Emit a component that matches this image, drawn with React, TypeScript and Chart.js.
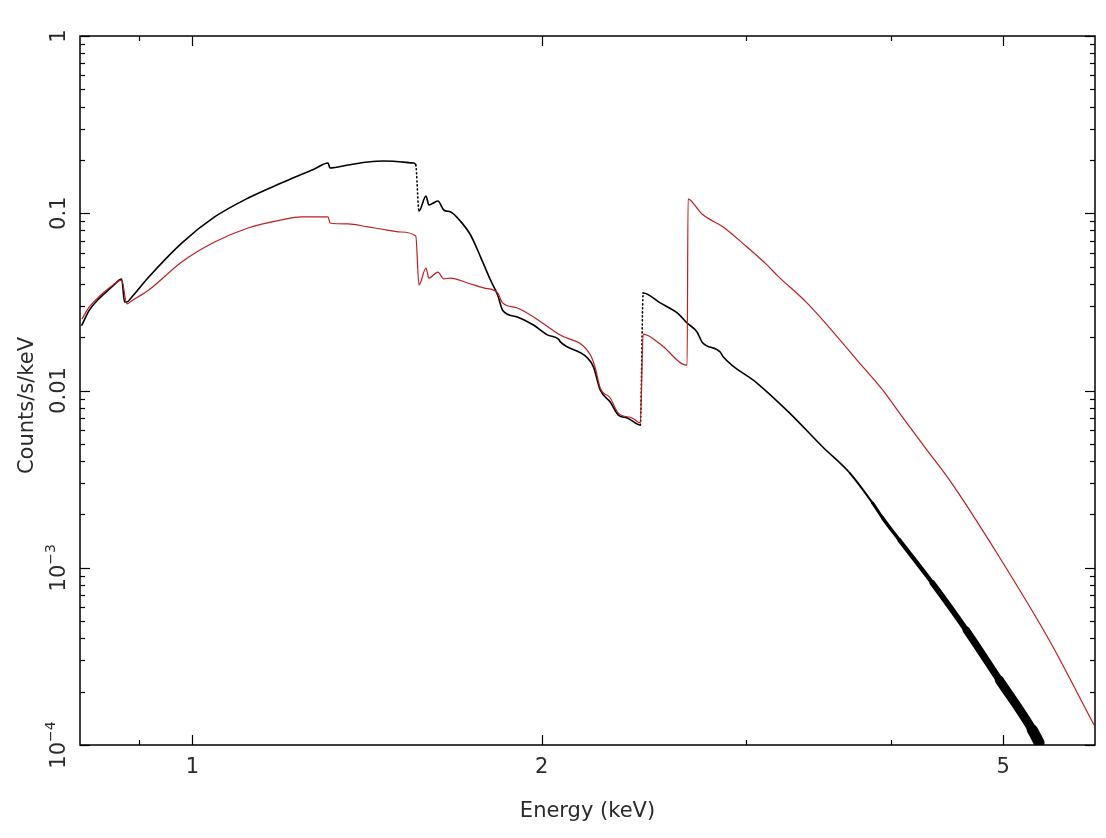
import React, { useEffect, useRef } from "react";
import { Chart, registerables } from "chart.js";

Chart.register(...registerables);

// ---- data (Energy in keV, Counts/s/keV) ----
const blackEnergy = [0.803, 0.815, 0.832, 0.852, 0.865, 0.869, 0.874, 0.878, 0.886, 0.917, 0.979, 1.045, 1.117, 1.193, 1.241, 1.274, 1.309, 1.314, 1.362, 1.417, 1.463, 1.552, 1.558, 1.568, 1.590, 1.599, 1.628, 1.647, 1.670, 1.703, 1.737, 1.772, 1.807, 1.833, 1.851, 1.906, 1.968, 2.023, 2.068, 2.076, 2.190, 2.217, 2.247, 2.292, 2.329, 2.371, 2.433, 2.447, 2.531, 2.618, 2.670, 2.723, 2.750, 2.851, 2.868, 3.067, 3.273, 3.495, 3.688, 3.858, 3.936, 4.070, 4.345, 4.647, 4.962, 5.297, 5.370];
const blackCounts = [0.0234, 0.0284, 0.0333, 0.0384, 0.0420, 0.0426, 0.0316, 0.0316, 0.0335, 0.0437, 0.0679, 0.0953, 0.1219, 0.1482, 0.1654, 0.1777, 0.1920, 0.1800, 0.1872, 0.1945, 0.1971, 0.1920, 0.1872, 0.1030, 0.1251, 0.1113, 0.1173, 0.1043, 0.1016, 0.0900, 0.0754, 0.0566, 0.0420, 0.0346, 0.0284, 0.0260, 0.0234, 0.0206, 0.0195, 0.0188, 0.0153, 0.0136, 0.01007, 0.00861, 0.00727, 0.00700, 0.00639, 0.0355, 0.0312, 0.0274, 0.0240, 0.0214, 0.0188, 0.0165, 0.0155, 0.01102, 0.00746, 0.00480, 0.00342, 0.00232, 0.00191, 0.00143, 0.000820, 0.000445, 0.000233, 0.000122, 0.000103];

const redEnergy = [0.803, 0.815, 0.852, 0.869, 0.878, 0.886, 0.917, 0.979, 1.045, 1.117, 1.193, 1.241, 1.309, 1.314, 1.362, 1.417, 1.454, 1.512, 1.558, 1.568, 1.590, 1.599, 1.628, 1.647, 1.670, 1.727, 1.783, 1.833, 1.851, 1.906, 1.968, 2.068, 2.203, 2.225, 2.247, 2.292, 2.329, 2.394, 2.433, 2.447, 2.531, 2.670, 2.675, 2.686, 2.750, 2.868, 3.007, 3.129, 3.191, 3.387, 3.544, 3.739, 3.936, 4.070, 4.276, 4.494, 4.962, 5.478, 5.988];
const redCounts = [0.0253, 0.0296, 0.0389, 0.0420, 0.0308, 0.0320, 0.0369, 0.0531, 0.0688, 0.0826, 0.0916, 0.0953, 0.0953, 0.0881, 0.0870, 0.0837, 0.0815, 0.0784, 0.0744, 0.0394, 0.0491, 0.0431, 0.0466, 0.0426, 0.0431, 0.0404, 0.0379, 0.0355, 0.0312, 0.0292, 0.0260, 0.0208, 0.0159, 0.0134, 0.01033, 0.00907, 0.00746, 0.00700, 0.00656, 0.0208, 0.0183, 0.0139, 0.1203, 0.1188, 0.0990, 0.0837, 0.0645, 0.0511, 0.0448, 0.0312, 0.0225, 0.0149, 0.01007, 0.00746, 0.00483, 0.00313, 0.00115, 0.000391, 0.000130];

// ---- axes ----
const xMin = 0.8;
const xMax = 6;
const yMin = 1e-4;
const yMax = 1;
const xMajorTicks = [1, 2, 5];
const xMinorTicks = [0.9, 3, 4];
const xTickLabels = ["1", "2", "5"];
const yMajorTicks = [1e-4, 1e-3, 1e-2, 0.1, 1];
const yMinorTicks = [
  2e-4, 3e-4, 4e-4, 5e-4, 6e-4, 7e-4, 8e-4, 9e-4,
  2e-3, 3e-3, 4e-3, 5e-3, 6e-3, 7e-3, 8e-3, 9e-3,
  0.02, 0.03, 0.04, 0.05, 0.06, 0.07, 0.08, 0.09,
  0.2, 0.3, 0.4, 0.5, 0.6, 0.7, 0.8, 0.9,
];
const yTickBase = ["10", "10", "0.01", "0.1", "1"];
const yTickExp = ["\u22124", "\u22123", "", "", ""];
const xTitle = "Energy (keV)";
const yTitle = "Counts/s/keV";

const FONT_FAMILY = "'DejaVu Sans', 'Liberation Sans', sans-serif";
const TEXT_COLOR = "#2a2a2a";

const framePlugin = {
  id: "pgplotFrame",
  afterDraw(chart: any) {
    const { ctx, chartArea: a, scales } = chart;
    const xs = scales.x;
    const ys = scales.y;
    ctx.save();
    ctx.strokeStyle = "#000";
    ctx.lineWidth = 1.5;
    ctx.strokeRect(a.left, a.top, a.right - a.left, a.bottom - a.top);

    ctx.lineWidth = 1.2;
    const seg = (x1: number, y1: number, x2: number, y2: number) => {
      ctx.beginPath();
      ctx.moveTo(x1, y1);
      ctx.lineTo(x2, y2);
      ctx.stroke();
    };
    const xTick = (v: number, len: number) => {
      const px = Math.round(xs.getPixelForValue(v)) + 0.5;
      seg(px, a.bottom, px, a.bottom - len);
      seg(px, a.top, px, a.top + len);
    };
    const yTick = (v: number, len: number) => {
      const py = Math.round(ys.getPixelForValue(v)) + 0.5;
      seg(a.left, py, a.left + len, py);
      seg(a.right, py, a.right - len, py);
    };
    xMajorTicks.forEach((v) => xTick(v, 10));
    xMinorTicks.forEach((v) => xTick(v, 5));
    yMajorTicks.forEach((v) => yTick(v, 10));
    yMinorTicks.forEach((v) => yTick(v, 5));

    ctx.fillStyle = TEXT_COLOR;
    const big = `21px ${FONT_FAMILY}`;
    const small = `14px ${FONT_FAMILY}`;

    // x tick labels
    ctx.font = big;
    ctx.textAlign = "center";
    ctx.textBaseline = "alphabetic";
    xMajorTicks.forEach((v, i) => {
      ctx.fillText(xTickLabels[i], xs.getPixelForValue(v), a.bottom + 28);
    });
    // x title
    ctx.fillText(xTitle, (a.left + a.right) / 2, a.bottom + 72);

    // y tick labels (rotated)
    yMajorTicks.forEach((v, i) => {
      const py = ys.getPixelForValue(v);
      ctx.save();
      ctx.translate(a.left - 15, py);
      ctx.rotate(-Math.PI / 2);
      ctx.textAlign = "left";
      ctx.font = big;
      const w1 = ctx.measureText(yTickBase[i]).width;
      let w2 = 0;
      if (yTickExp[i]) {
        ctx.font = small;
        w2 = ctx.measureText(yTickExp[i]).width;
      }
      const start = -(w1 + w2) / 2;
      ctx.font = big;
      ctx.fillText(yTickBase[i], start, 0);
      if (yTickExp[i]) {
        ctx.font = small;
        ctx.fillText(yTickExp[i], start + w1, -10);
      }
      ctx.restore();
    });

    // y title
    ctx.save();
    ctx.translate(a.left - 47, (a.top + a.bottom) / 2 + 15);
    ctx.rotate(-Math.PI / 2);
    ctx.font = big;
    ctx.textAlign = "center";
    ctx.fillText(yTitle, 0, 0);
    ctx.restore();

    ctx.restore();
  },
};

export default function App() {
  const canvasRef = useRef<HTMLCanvasElement>(null);

  useEffect(() => {
    const canvas = canvasRef.current;
    if (!canvas) return;
    const chart = new Chart(canvas, {
      type: "line",
      data: {
        datasets: [
          {
            label: "model",
            data: redEnergy.map((e, i) => ({ x: e, y: redCounts[i] })),
            borderColor: "rgb(190,30,30)",
            borderWidth: 1.2,
            pointRadius: 0,
            cubicInterpolationMode: "monotone",
            fill: false,
          },
          {
            label: "data",
            data: blackEnergy.map((e, i) => ({ x: e, y: blackCounts[i] })),
            borderColor: "#000",
            borderWidth: 1.6,
            pointRadius: 0,
            cubicInterpolationMode: "monotone",
            fill: false,
            borderCapStyle: "round",
            borderJoinStyle: "round",
            segment: {
              borderWidth: (c: any) => {
                const e = c.p0.parsed.x;
                return e < 3.6 ? 1.6 : 1.6 + (e - 3.6) * 5.5;
              },
              borderDash: (c: any) => {
                const r = Math.abs(Math.log10(c.p1.parsed.y / c.p0.parsed.y));
                const dx = c.p1.parsed.x / c.p0.parsed.x;
                return r > 0.2 && dx < 1.01 ? [1, 3] : undefined;
              },
            },
          },
        ],
      },
      options: {
        animation: false,
        responsive: false,
        layout: { padding: { left: 80, right: 11, top: 36, bottom: 93 } },
        plugins: {
          legend: { display: false },
          tooltip: { enabled: false },
        },
        scales: {
          x: { type: "logarithmic", min: xMin, max: xMax, display: false },
          y: { type: "logarithmic", min: yMin, max: yMax, display: false },
        },
      },
      plugins: [framePlugin],
    } as any);
    return () => chart.destroy();
  }, []);

  return (
    <div style={{ position: "absolute", left: 0, top: 0, width: 1106, height: 838, background: "#fff" }}>
      <canvas ref={canvasRef} width={1106} height={838} style={{ display: "block" }} />
    </div>
  );
}
